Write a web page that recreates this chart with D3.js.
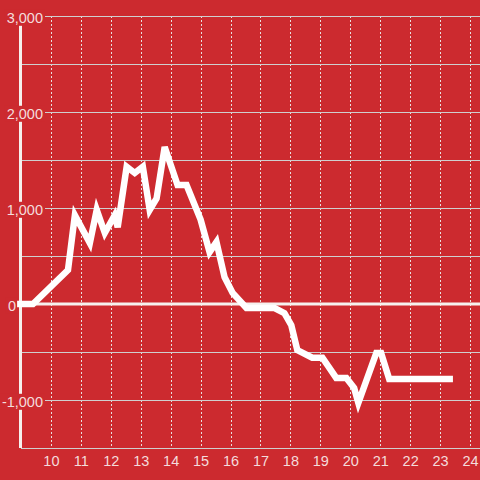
<!DOCTYPE html>
<html>
<head>
<meta charset="utf-8">
<script src="https://cdn.jsdelivr.net/npm/d3@7"></script>
<style>
html,body{margin:0;padding:0;background:#cc2a2f;}
svg{display:block;}
</style>
</head>
<body>
<svg id="chart" width="480" height="480"></svg>
<script>
// ---- data ----
const times = [8.87, 9.4, 10.57, 10.8, 11.3, 11.53, 11.8, 12.13, 12.23, 12.53, 12.8, 13.07, 13.3, 13.53, 13.8, 14.23, 14.53, 15.0, 15.3, 15.53, 15.8, 16.07, 16.53, 17.47, 17.8, 18.03, 18.23, 18.73, 19.07, 19.53, 19.87, 20.13, 20.27, 20.87, 21.03, 21.3, 23.43];
const values = [0, 0, 354, 925, 635, 980, 740, 925, 800, 1430, 1365, 1430, 980, 1100, 1635, 1240, 1240, 880, 540, 645, 280, 115, -42, -42, -95, -220, -480, -560, -560, -770, -770, -875, -1030, -510, -510, -780, -780];
const xTicks = [10, 11, 12, 13, 14, 15, 16, 17, 18, 19, 20, 21, 22, 23, 24];
const yTicks = [-1000, 0, 1000, 2000, 3000];
const yGrid = [-1500, -1000, -500, 500, 1000, 1500, 2000, 2500, 3000];

const bg = "#cc2a2f";
const txt = "#f4dcdc";
const svg = d3.select("#chart");
svg.append("rect").attr("width", 480).attr("height", 480).attr("fill", bg);

const x = d3.scaleLinear().domain([9, 24]).range([21, 470]);
const y = d3.scaleLinear().domain([-1500, 3000]).range([448, 16]);

const locale = d3.formatLocale({decimal: ".", thousands: ",", grouping: [3], currency: ["", ""], minus: "-"});
const fmt = locale.format(",");

// vertical dotted grid
svg.append("g").selectAll("line").data(xTicks).join("line")
  .attr("x1", d => Math.round(x(d)) + 0.5).attr("x2", d => Math.round(x(d)) + 0.5)
  .attr("y1", y(3000)).attr("y2", y(-1500))
  .attr("stroke", "#e8e0e0").attr("stroke-width", 1).attr("stroke-dasharray", "2,2");

// horizontal grid
svg.append("g").selectAll("line").data(yGrid).join("line")
  .attr("x1", 21).attr("x2", 480)
  .attr("y1", d => Math.round(y(d)) + 0.5).attr("y2", d => Math.round(y(d)) + 0.5)
  .attr("stroke", "#cfcfcf").attr("stroke-width", 1.2);

// zero line
svg.append("line").attr("x1", 17).attr("x2", 480).attr("y1", y(0)).attr("y2", y(0))
  .attr("stroke", "#f6f0ee").attr("stroke-width", 3);

// y axis line
svg.append("line").attr("x1", 20.5).attr("x2", 20.5).attr("y1", y(3000)).attr("y2", y(-1500))
  .attr("stroke", "#f6f0ee").attr("stroke-width", 3);

// y axis labels
const yAxis = d3.axisLeft(y).tickValues(yTicks).tickSize(0).tickPadding(0).tickFormat(fmt);
const gy = svg.append("g").attr("transform", "translate(43,0)").call(yAxis);
gy.select(".domain").remove();
gy.selectAll(".tick text")
  .attr("fill", txt).attr("font-family", "Liberation Sans, Arial, sans-serif")
  .attr("font-size", "14.5px").attr("dy", "6.3").attr("x", d => d === 0 ? -27 : 0);
gy.selectAll(".tick").each(function() {
  const t = d3.select(this).select("text");
  const b = t.node().getBBox();
  d3.select(this).insert("rect", "text")
    .attr("x", b.x - 2).attr("y", b.y).attr("width", b.width + 4).attr("height", b.height)
    .attr("fill", bg);
});

// x axis labels
const xAxis = d3.axisBottom(x).tickValues(xTicks).tickSize(0).tickPadding(0).tickFormat(d3.format("d"));
const gx = svg.append("g").attr("transform", "translate(0,448)").call(xAxis);
gx.select(".domain").remove();
gx.selectAll(".tick text")
  .attr("fill", txt).attr("font-family", "Liberation Sans, Arial, sans-serif")
  .attr("font-size", "14.5px").attr("dy", "18").attr("y", 0);

// data line
const pts = times.map((t, i) => [t, values[i]]);
const line = d3.line().x(d => x(d[0])).y(d => y(d[1]));
svg.append("path").datum(pts).attr("d", line)
  .attr("fill", "none").attr("stroke", "#ffffff").attr("stroke-width", 6.5)
  .attr("stroke-linejoin", "miter").attr("stroke-linecap", "butt");
</script>
</body>
</html>
